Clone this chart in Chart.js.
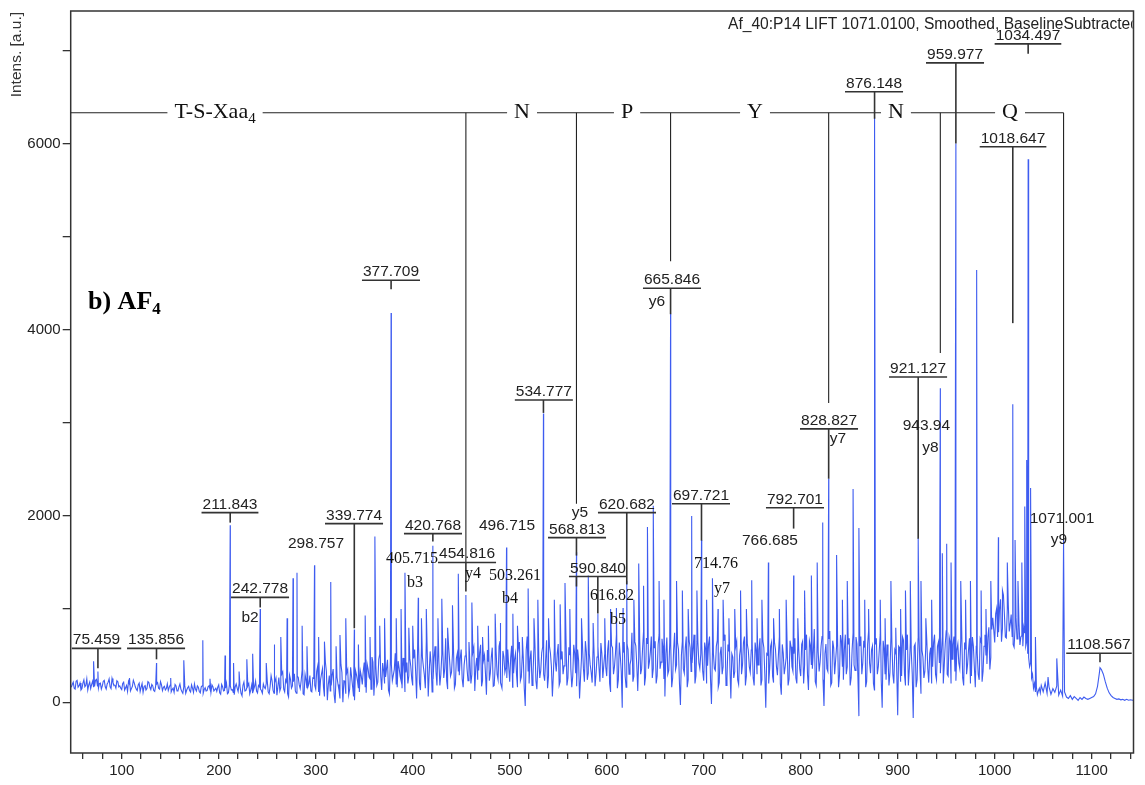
<!DOCTYPE html>
<html>
<head>
<meta charset="utf-8">
<script src="https://cdn.jsdelivr.net/npm/chart.js@4/dist/chart.umd.min.js"></script>
<style>
  html, body { margin: 0; padding: 0; background: #fff; }
  #c { display: block; }
</style>
</head>
<body>
<canvas id="c" width="1145" height="785" style="width:1145px;height:785px"></canvas>
<script>
// ---- MS/MS spectrum of AF4 (LIFT 1071.01) ----

// Baseline trace: each row starts at its own m/z and is sampled every 2 m/z.
const traceStep = 2;
const baselineTrace = [
  [48,   [160,215,140,235,175,130,205,165,250,185,145,225,170,245,150,205,175,235,140,215,165,255,185,150,220]],
  [98,   [175,135,215,155,115,195,145,235,165,125,205,160,105,185,145,210,135,175,115,195,150,220,125,170,145]],
  [148,  [125,185,135,105,175,125,195,115,165,95,155,125,185,105,140,175,115,165,95,155,125,175,105,165,135]],
  [198,  [115,185,85,165,125,205,100,175,135,80,195,115,165,70,215,125,175,90,185,135,225,100,165,125,195]],
  [248,  [145,235,90,285,130,205,75,265,155,325,110,215,55,245,175,305,95,265,145,345,80,235,165,285,110]],
  [298,  [255,140,385,70,305,160,425,20,285,180,355,-10,265,125,405,0,225,315,80,375,170,20,295,150,335]],
  [348,  [190,425,100,355,250,485,70,395,215,515,130,335,270,455,90,405,290,525,160,365,230,475,110,425,280]],
  [398,  [385,180,565,40,625,130,485,290,655,60,545,110,475,330,605,180,515,260,685,140,455,320,595,190,525]],
  [448,  [290,565,160,495,360,645,200,535,120,475,340,615,230,505,80,435,310,585,180,545,240,655,150,485,370]],
  [498,  [565,220,605,310,525,160,645,270,475,-40,705,200,555,290,625,140,485,340,595,230,665,280,525,60,585]],
  [548,  [330,625,220,545,390,705,260,505,160,615,310,565,40,475,360,655,240,525,320,605,170,485,380,635,260]],
  [598,  [525,280,665,110,585,380,725,240,495,-60,645,160,565,400,745,280,605,120,685,360,765,270,625,430,705]],
  [648,  [360,655,280,725,430,585,60,695,340,615,260,745,400,565,-30,655,310,705,240,585,420,725,280,645,360]],
  [698,  [625,230,565,390,705,-20,525,340,665,210,595,380,725,260,545,40,485,330,655,190,585,400,705,280,555]],
  [748,  [320,625,180,545,400,685,240,585,-60,505,360,645,210,565,290,705,80,525,380,625,250,595,330,685,200]],
  [798,  [565,280,655,400,725,130,605,360,785,180,545,430,705,-40,625,330,765,210,585,450,695,290,645,240,725]],
  [848,  [380,685,260,745,340,625,-150,705,420,585,220,765,310,605,130,685,380,725,-60,565,240,485,320,645,200]],
  [898,  [525,-140,585,280,665,180,725,360,545,-170,625,240,705,90,485,330,665,210,585,380,725,240,645,310,705]],
  [948,  [400,765,280,645,460,705,230,625,360,765,180,565,400,685,280,605,160,525,240,645,330,725,410,805,480]],
  [998,  [905,640,1005,750,1105,790,945,690,1055,840,705,590,905,745,615,715,805,600,520,380,260,150,110,80,150]],
  [1048, [180,110,205,95,165,85,145,105,175,75,130,65,110,55,40,70,30,60,40,20,50,30,55,40,30]],
  [1098, [40,50,60,90,170,320,350,300,220,150,100,70,50,40,30,35,25,30,20,30,20,25,20,25,20]]
];

// Intermediate trace samples at odd m/z (same 2 m/z spacing, offset by one)
const baselineTraceOdd = [
  [49,  [190,150,225,160,205,145,240,180,130,215,190,160,235,175,200,140,225,165,195,250,145,210,180,230,165]],
  [99,  [150,200,130,180,225,120,170,205,140,185,115,200,165,130,220,160,190,125,175,210,140,185,160,130,195]],
  [149, [160,110,150,190,120,165,140,95,180,130,170,110,150,195,120,160,100,175,135,120,165,140,185,120,150]],
  [199, [160,100,190,120,150,90,185,130,105,165,150,200,95,180,120,155,200,130,95,170,120,180,140,95,160]],
  [249, [200,110,170,230,95,260,170,120,300,140,240,90,290,150,220,120,280,185,230,90,300,150,200,120,260]],
  [299, [180,330,110,240,360,60,330,190,120,290,80,300,190,40,320,230,90,350,140,270,60,340,230,110,280]],
  [349, [330,160,410,270,140,430,300,180,460,280,420,200,360,130,480,230,350,190,440,280,150,390,320,200,470]],
  [399, [250,470,330,540,200,590,380,150,520,320,400,250,600,180,430,300,560,360,230,600,280,520,150,470,330]],
  [449, [470,250,400,560,230,420,300,590,380,240,530,170,450,310,560,230,480,170,390,300,600,210,550,320,260]],
  [499, [380,480,160,460,300,580,230,520,150,560,330,460,180,600,230,400,260,530,300,440,150,600,380,300,440]],
  [549, [520,180,460,300,620,180,590,360,280,520,170,450,260,620,220,540,310,400,210,520,300,600,220,520,400]],
  [599, [380,560,200,610,300,520,150,640,330,530,280,620,300,460,220,650,400,480,300,580,180,690,360,540,260]],
  [649, [580,200,620,360,680,250,520,300,640,160,560,350,640,200,500,360,580,160,660,330,560,200,650,420,520]],
  [699, [330,640,200,620,250,540,360,600,160,520,300,660,180,620,380,520,260,600,240,500,300,640,180,620,380]],
  [749, [560,260,640,300,560,180,660,300,520,200,600,280,640,380,500,200,620,300,480,180,660,380,520,260,600]],
  [799, [360,620,200,560,300,660,400,540,220,680,330,600,240,520,360,680,180,660,300,600,160,720,380,560,300]],
  [849, [620,180,560,400,700,260,600,300,660,160,620,420,560,200,620,300,560,240,660,300,620,180,700,300,560]],
  [899, [340,600,220,700,300,560,180,640,300,600,160,680,340,560,260,620,360,520,200,640,300,600,420,520,200]],
  [949, [620,300,700,200,620,330,560,420,660,260,640,300,560,200,700,380,600,300,680,220,600,500,700,350,780]],
  [999, [780,950,700,1000,650,1150,700,1000,760,940,620,800,680,860,700,600,740,650,480,420,300,200,160,120,100]]
];

// Annotated fragment peaks: [m/z as printed, intensity]
const labelledPeaks = [
  ['75.459',330],['135.856',420],['211.843',1900],['242.778',1000],['298.757',1470],
  ['339.774',780],['377.709',4180],['405.715',1120],['420.768',1680],['454.816',1150],
  ['496.715',1660],['503.261',950],['534.777',3100],['568.813',1610],['590.840',950],
  ['616.82',1010],['620.682',1300],['665.846',4170],['697.721',1740],['714.76',1000],
  ['766.685',1500],['792.701',1360],['828.827',2400],['876.148',6280],['921.127',1760],
  ['943.94',3370],['959.977',6000],['1018.647',3200],['1034.497',5830],['1071.001',1740],
  ['1108.567',370]
];

// Other (unlabelled) peaks: [m/z, intensity]
const otherPeaks = [
  [71,440],[108,260],[150.5,260],[164,450],[183.6,665],[191,250],[206.5,500],[215.3,420],
  [221,330],[229,460],[235,520],[249,420],[257,620],[264,700],[270.5,900],[276.6,1330],
  [280.7,1390],[286,820],[291,600],[303,700],[309,650],[315.5,1290],[321,600],[325,720],
  [331,900],[344,620],[351,930],[356,700],[361,1780],[366,820],[371,900],[383,900],
  [388,1000],[392,1390],[396,800],[400,820],[409,900],[414,1000],[426,900],[430,1110],
  [436,800],[441,1040],[447,1380],[461,1070],[467,820],[472,700],[478,820],[485,950],
  [490,850],[508,820],[513,700],[519,1220],[525,900],[529,1100],[540,900],[546,1100],
  [552,1050],[557,1280],[562,1000],[574,900],[581,1360],[586,850],[598,900],[604,1000],
  [610,1010],[628,1100],[633,1490],[638,1250],[642,1880],[648,2110],[654,1300],[659,1100],
  [672,1300],[678,1200],[684,1000],[687.6,2000],[693,1200],[703,1100],[709,1330],[720,1100],
  [726,900],[732,1000],[738,1200],[744,1000],[749.5,1310],[755,900],[760,1100],[772,900],
  [778,1000],[785,1100],[797,900],[804,1200],[811,1360],[817,1500],[822.7,1930],[837,1580],
  [843,1100],[848,1300],[854,2290],[860,1870],[866,1100],[870,1000],[882,1100],[887,900],
  [893,1300],[898,800],[903,1000],[908,1200],[913,1300],[924,1300],[929,900],[935,1100],
  [946,1600],[950.5,1700],[955,1500],[965,1300],[970,1100],[975,1300],[981.4,4640],[986,1200],
  [991,1000],[996,1300],[1003.8,1770],[1008,1200],[1013,1500],[1021,1740],[1024,1300],[1028,1500],
  [1031,2100],[1033,2600],[1037,2300],[1042,700],[1055,270],[1064,470]
];

// Axis ticks
const xTicks = [60,80,100,120,140,160,180,200,220,240,260,280,300,320,340,360,380,400,420,440,
  460,480,500,520,540,560,580,600,620,640,660,680,700,720,740,760,780,800,820,840,860,880,900,
  920,940,960,980,1000,1020,1040,1060,1080,1100,1120,1140];
const xLabelled = [100,200,300,400,500,600,700,800,900,1000,1100];
const yTicks = [0,1000,2000,3000,4000,5000,6000,7000];
const yLabelled = [0,2000,4000,6000];

// Peptide sequence read from the y-ion ladder
const residues = [['T-S-Xaa','4',196.2],['N','',512.7],['P','',621.0],['Y','',752.9],['N','',898.2],['Q','',1015.8]];
const sequenceLevel = 6330;
const ionDrops = [['454.816',1500],['568.813',2131],['665.846',4734],['828.827',3213],['943.94',3749],['1071.001',1735]];

// Underlined peak callouts: [peak, text centre m/z, bar level, tick end level, extra ticks]
const callouts = [
  ['75.459',74.0,578,364],['135.856',135.4,578,460],['211.843',211.6,2035,1928],
  ['242.778',242.6,1125,1017],['339.774',339.5,1917,793],['377.709',377.6,4530,4434],
  ['420.768',420.9,1810,1724],['454.816',456.0,1500,1189],['534.777',535.2,3245,3106],
  ['568.813',569.4,1767,1574],['590.840',591.0,1349,953,[[568.813,1242]]],['620.682',620.9,2035,1264],
  ['665.846',667.3,4445,4166],['697.721',697.2,2131,1735],['792.701',794.1,2088,1864],
  ['828.827',829.2,2935,2399],['876.148',875.6,6555,6265],['959.977',959.1,6865,5998],
  ['1034.497',1034.3,7069,6962],['1018.647',1018.9,5965,4070],['921.127',921.0,3491,1756],
  ['1108.567',1107.5,525,428]
];

// Free-standing annotations: [text, m/z, level, face]
const notes = [
  ['298.757',300.3,1703,'sans'],['496.715',497.2,1896,'sans'],['405.715',399.3,1542,'serif'],
  ['b3',402.4,1285,'serif'],['y4',462.2,1382,'serif'],['503.261',505.5,1360,'serif'],
  ['b4',500.3,1114,'serif'],['y5',572.5,2035,'sans'],['616.82',605.5,1146,'serif'],
  ['b5',611.7,889,'serif'],['y6',651.9,4305,'sans'],['714.76',712.7,1489,'serif'],
  ['y7',718.9,1221,'serif'],['766.685',768.3,1735,'sans'],['y7',838.5,2827,'sans'],
  ['943.94',929.6,2967,'sans'],['y8',933.7,2731,'sans'],['1071.001',1069.4,1971,'sans'],
  ['y9',1066.3,1746,'sans'],['b2',232.3,910,'sans']
];

const runTitle = 'Af_40:P14 LIFT 1071.0100, Smoothed, BaselineSubtracted';
const yTitle = 'Intens. [a.u.]';

const SANS = '"Liberation Sans", Arial, sans-serif';
const SERIF = '"Liberation Serif", "Times New Roman", serif';

// Merge traces and peaks into one m/z-sorted profile
const points = [];
[baselineTrace, baselineTraceOdd].forEach(rows =>
  rows.forEach(([start, levels]) => levels.forEach((v, i) => points.push({x: start + i * traceStep, y: v}))));
labelledPeaks.forEach(([mz, h]) => points.push({x: Number(mz), y: h}));
otherPeaks.forEach(([mz, h]) => points.push({x: mz, y: h}));
points.sort((a, b) => a.x - b.x);

function seg(ctx, x1, y1, x2, y2) {
  ctx.beginPath(); ctx.moveTo(x1, y1); ctx.lineTo(x2, y2); ctx.stroke();
}

const annotations = {
  id: 'annotations',
  afterDatasetsDraw(chart) {
    const {ctx, chartArea: a, scales: {x, y}} = chart;
    ctx.save();

    // plot frame
    ctx.strokeStyle = '#333';
    ctx.lineWidth = 1.5;
    ctx.strokeRect(a.left, a.top, a.right - a.left, a.bottom - a.top);

    // acquisition title, clipped at the frame
    ctx.save();
    ctx.beginPath(); ctx.rect(a.left, a.top, a.right - a.left - 1, a.bottom - a.top); ctx.clip();
    ctx.fillStyle = '#222';
    ctx.font = '15.6px ' + SANS;
    ctx.textAlign = 'left'; ctx.textBaseline = 'middle';
    ctx.fillText(runTitle, 728, 25);
    ctx.restore();

    // y-axis title
    ctx.save();
    ctx.translate(17, 12);
    ctx.rotate(-Math.PI / 2);
    ctx.font = '15.5px ' + SANS;
    ctx.fillStyle = '#333';
    ctx.textAlign = 'right'; ctx.textBaseline = 'middle';
    ctx.fillText(yTitle, 0, 0);
    ctx.restore();

    // sequence ladder
    const sy = y.getPixelForValue(sequenceLevel);
    ctx.fillStyle = '#111';
    ctx.strokeStyle = '#222';
    ctx.lineWidth = 1.1;
    const boxes = residues.map(([main, sub, mz]) => {
      ctx.font = '22px ' + SERIF;
      const wm = ctx.measureText(main).width;
      ctx.font = '15px ' + SERIF;
      const ws = sub ? ctx.measureText(sub).width : 0;
      const cx = x.getPixelForValue(mz);
      const w = wm + ws;
      return {main, sub, left: cx - w / 2, right: cx + w / 2, wm};
    });
    boxes.forEach(b => {
      ctx.font = '22px ' + SERIF;
      ctx.textAlign = 'left'; ctx.textBaseline = 'middle';
      ctx.fillText(b.main, b.left, sy);
      if (b.sub) {
        ctx.font = '15px ' + SERIF;
        ctx.fillText(b.sub, b.left + b.wm, sy + 6);
      }
    });
    const gap = 7;
    seg(ctx, a.left, sy, boxes[0].left - gap, sy);
    for (let i = 0; i < boxes.length - 1; i++) {
      seg(ctx, boxes[i].right + gap, sy, boxes[i + 1].left - gap, sy);
    }
    const lastDrop = x.getPixelForValue(Number(ionDrops[ionDrops.length - 1][0]));
    seg(ctx, boxes[boxes.length - 1].right + gap, sy, lastDrop, sy);
    ionDrops.forEach(([mz, end]) => {
      const px = x.getPixelForValue(Number(mz));
      seg(ctx, px, sy, px, y.getPixelForValue(end));
    });

    // underlined callouts
    ctx.font = '15.5px ' + SANS;
    ctx.fillStyle = '#222';
    ctx.strokeStyle = '#333';
    ctx.lineWidth = 1.6;
    ctx.textAlign = 'center'; ctx.textBaseline = 'alphabetic';
    callouts.forEach(([lab, tmz, barLevel, tipLevel, extra]) => {
      const px = x.getPixelForValue(Number(lab));
      const cx = x.getPixelForValue(tmz);
      const by = y.getPixelForValue(barLevel);
      const w = ctx.measureText(lab).width;
      ctx.fillText(lab, cx, by - 4);
      seg(ctx, cx - w / 2 - 1, by, cx + w / 2 + 1, by);
      seg(ctx, px, by, px, y.getPixelForValue(tipLevel));
      (extra || []).forEach(([emz, elevel]) => {
        const ex = x.getPixelForValue(emz);
        seg(ctx, ex, by, ex, y.getPixelForValue(elevel));
      });
    });

    // free annotations
    ctx.textBaseline = 'middle';
    notes.forEach(([t, mz, level, face]) => {
      ctx.font = face === 'serif' ? '16px ' + SERIF : '15.5px ' + SANS;
      ctx.fillStyle = face === 'serif' ? '#111' : '#222';
      ctx.fillText(t, x.getPixelForValue(mz), y.getPixelForValue(level));
    });

    // panel label
    ctx.fillStyle = '#000';
    ctx.textAlign = 'left'; ctx.textBaseline = 'alphabetic';
    ctx.font = 'bold 26px ' + SERIF;
    const panel = 'b) AF';
    ctx.fillText(panel, 88, 309);
    const pw = ctx.measureText(panel).width;
    ctx.font = 'bold 17px ' + SERIF;
    ctx.fillText('4', 88 + pw, 314);

    ctx.restore();
  }
};

new Chart(document.getElementById('c'), {
  type: 'line',
  data: {
    datasets: [{
      data: points,
      borderColor: 'rgb(62,92,240)',
      borderWidth: 1.1,
      pointRadius: 0,
      tension: 0,
      fill: false
    }]
  },
  options: {
    responsive: false,
    animation: false,
    devicePixelRatio: 1,
    parsing: false,
    normalized: true,
    layout: { padding: { top: 9, right: 11.5, left: 0, bottom: 0 } },
    plugins: { legend: { display: false }, tooltip: { enabled: false } },
    scales: {
      x: {
        type: 'linear',
        min: 47.4,
        max: 1143.1,
        afterFit: s => { s.height = 32; },
        afterBuildTicks: s => { s.ticks = xTicks.map(v => ({ value: v })); },
        border: { display: false },
        grid: { drawOnChartArea: false, drawTicks: true, tickLength: 6, color: '#333', lineWidth: 1.3 },
        ticks: {
          autoSkip: false, maxRotation: 0, minRotation: 0, padding: 3, color: '#222',
          font: { family: SANS, size: 15 },
          callback: v => xLabelled.includes(v) ? String(v) : ''
        }
      },
      y: {
        type: 'linear',
        min: -546,
        max: 7422,
        afterFit: s => { s.width = 70.7; },
        afterBuildTicks: s => { s.ticks = yTicks.map(v => ({ value: v })); },
        border: { display: false },
        grid: { drawOnChartArea: false, drawTicks: true, tickLength: 8, color: '#333', lineWidth: 1.3 },
        ticks: {
          autoSkip: false, padding: 2, color: '#222',
          font: { family: SANS, size: 15 },
          callback: v => yLabelled.includes(v) ? String(v) : ''
        }
      }
    }
  },
  plugins: [annotations]
});
</script>
</body>
</html>
